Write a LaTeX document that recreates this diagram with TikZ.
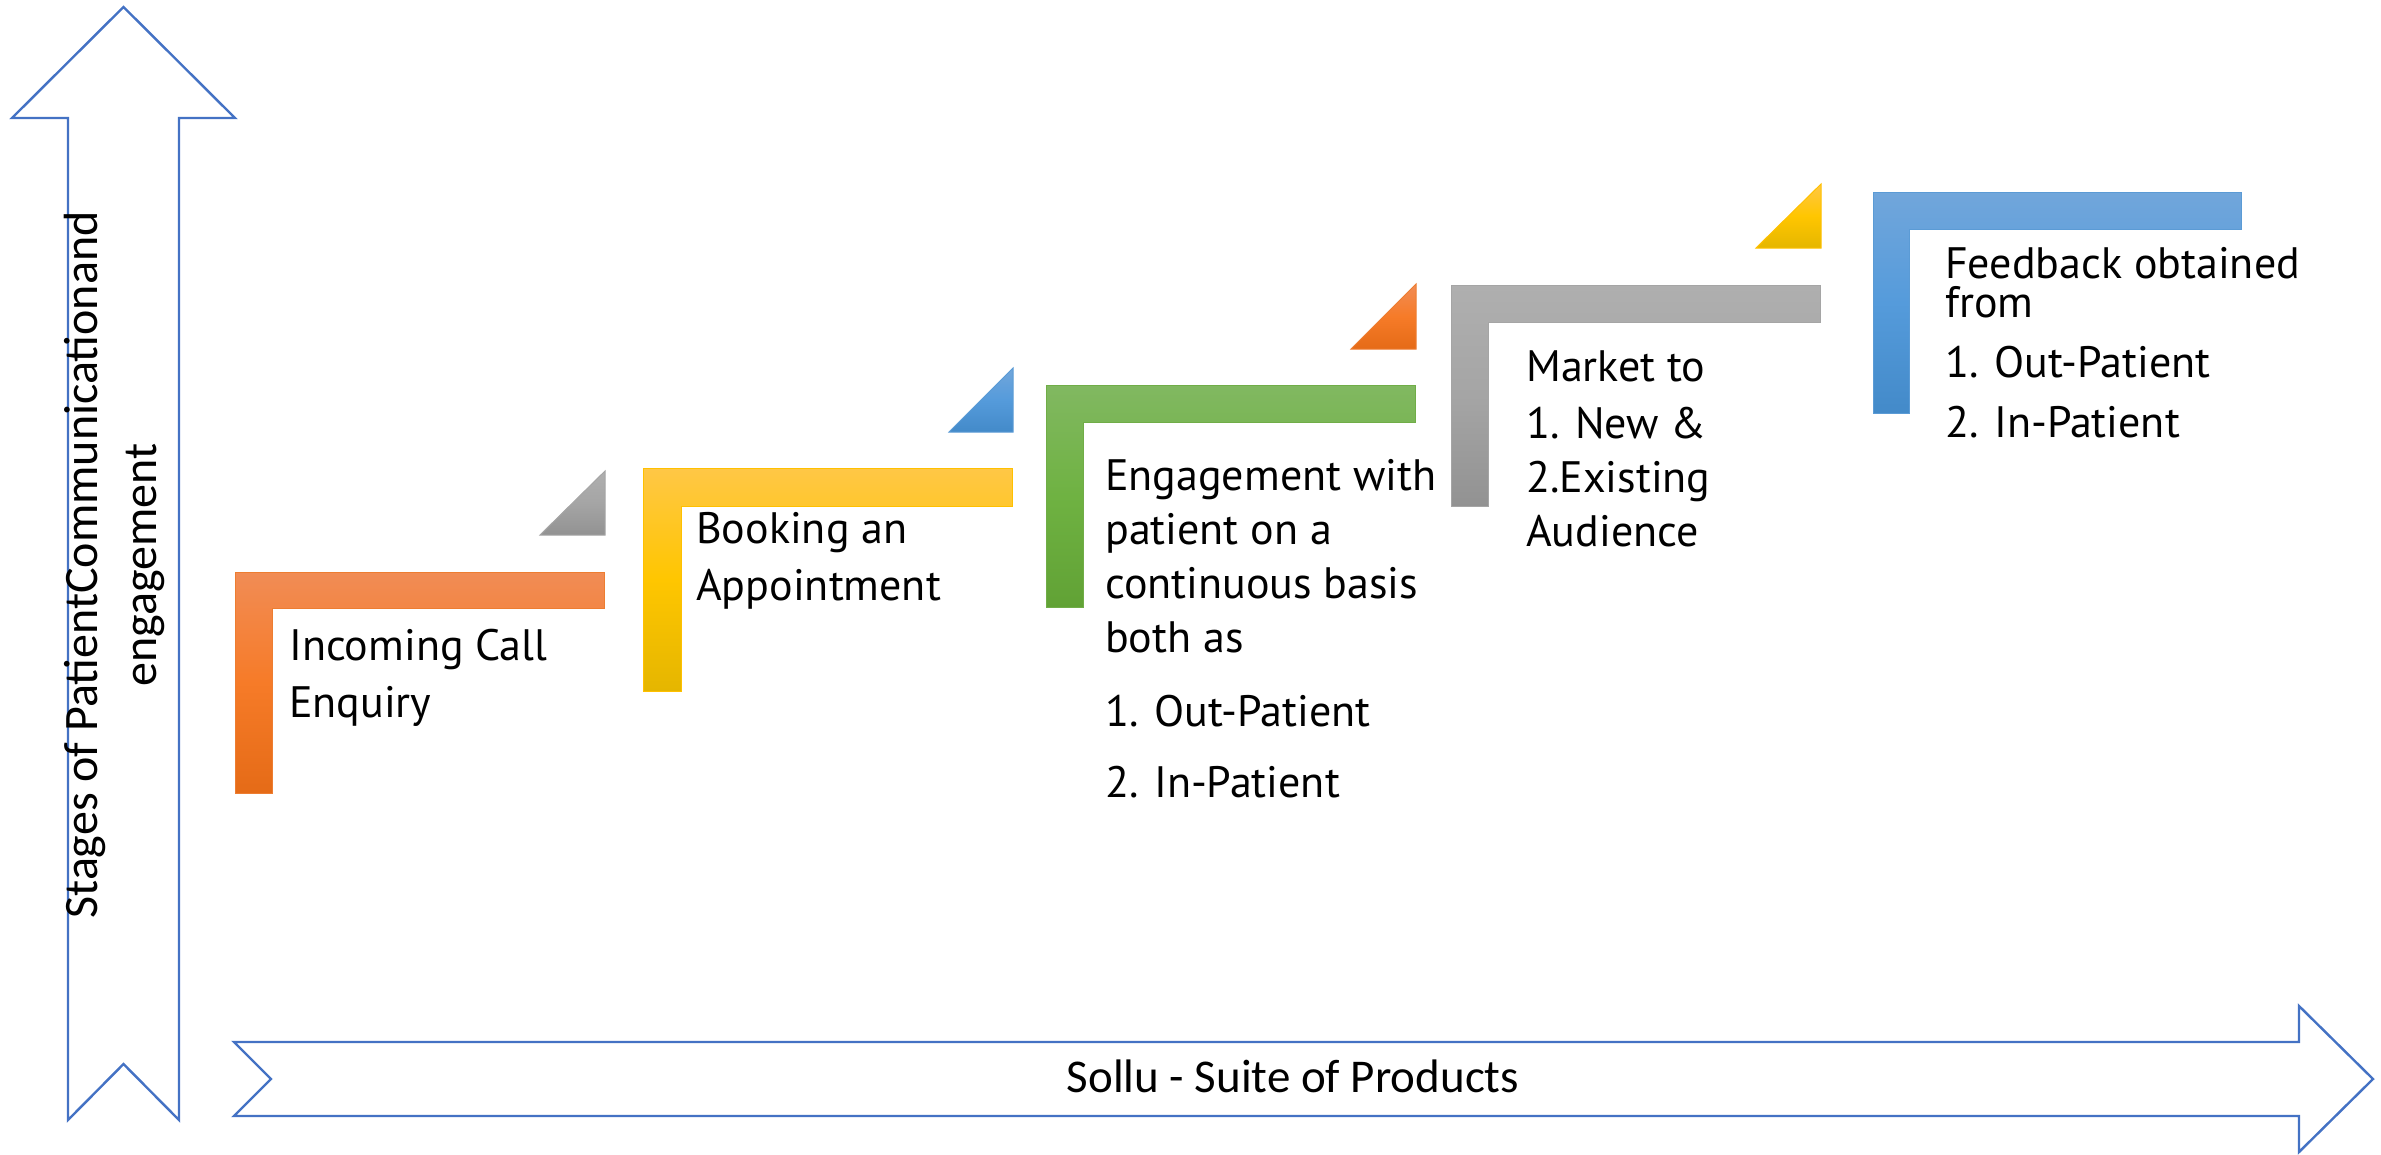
\documentclass[tikz,border=0pt]{standalone}
\usepackage{fontspec}
\setmainfont{PT Sans}
\newfontfamily\axisfont{Carlito}

% Office-like accent gradients (top / middle / bottom / outline)
\definecolor{axisblue}{HTML}{4472C4}
\definecolor{orT}{HTML}{F18C55}\definecolor{orM}{HTML}{F67B28}\definecolor{orB}{HTML}{E56B17}\definecolor{orD}{HTML}{ED7D31}
\definecolor{yeT}{HTML}{FFC746}\definecolor{yeM}{HTML}{FFC600}\definecolor{yeB}{HTML}{E5B600}\definecolor{yeD}{HTML}{FFC000}
\definecolor{grT}{HTML}{81B861}\definecolor{grM}{HTML}{6FB242}\definecolor{grB}{HTML}{61A235}\definecolor{grD}{HTML}{70AD47}
\definecolor{gyT}{HTML}{AFAFAF}\definecolor{gyM}{HTML}{A5A5A5}\definecolor{gyB}{HTML}{929292}\definecolor{gyD}{HTML}{A5A5A5}
\definecolor{blT}{HTML}{71A6DB}\definecolor{blM}{HTML}{559BDB}\definecolor{blB}{HTML}{438AC9}\definecolor{blD}{HTML}{5B9BD5}

\begin{document}
\begin{tikzpicture}[x=1pt,y=-1pt,
  axisarrow/.style={draw=axisblue, line width=2.4pt, line join=miter, fill=white},
  orangefill/.style={top color=orT, bottom color=orB, middle color=orM, draw=orD, line width=1pt},
  yellowfill/.style={top color=yeT, bottom color=yeB, middle color=yeM, draw=yeD, line width=1pt},
  greenfill/.style={top color=grT, bottom color=grB, middle color=grM, draw=grD, line width=1pt},
  grayfill/.style={top color=gyT, bottom color=gyB, middle color=gyM, draw=gyD, line width=1pt},
  bluefill/.style={top color=blT, bottom color=blB, middle color=blM, draw=blD, line width=1pt},
  % text blocks are placed by the baseline of their last line
  stagetext/.style={anchor=base west, align=left, inner sep=0pt, text=black,
    font=\fontsize{44}{54}\selectfont},
  axislabel/.style={inner sep=0pt, align=center, text=black,
    font=\axisfont\fontsize{48}{59}\selectfont},
]
\path[use as bounding box] (0,0) rectangle (2381,1154);

% vertical axis arrow (notched tail)
\draw[axisarrow] (68,1120) -- (68,118) -- (12,118) -- (123.5,7) -- (235,118)
  -- (179,118) -- (179,1120) -- (123.5,1064) -- cycle;
\node[axislabel, rotate=90] (yaxis) at (114,565)
  {Stages of PatientCommunicationand\\engagement};

% horizontal axis arrow (notched tail)
\draw[axisarrow] (234,1042) -- (2299,1042) -- (2299,1006) -- (2373,1079)
  -- (2299,1152) -- (2299,1116) -- (234,1116) -- (271,1079) -- cycle;
\node[axislabel, anchor=base, font=\axisfont\fontsize{47}{55}\selectfont] (xaxis) at (1293,1092)
  {Sollu - Suite of Products};

% stage 1
\path[orangefill] (235,572) -- (604,572) -- (604,608) -- (272,608) -- (272,793) -- (235,793) -- cycle;
\path[grayfill] (540,535) -- (605,535) -- (605,471) -- cycle;
\node[stagetext] (s1) at (289,717) {Incoming Call\\[3pt]Enquiry};

% stage 2
\path[yellowfill] (643,468) -- (1012,468) -- (1012,506) -- (681,506) -- (681,691) -- (643,691) -- cycle;
\path[bluefill] (949,432) -- (1013,432) -- (1013,368) -- cycle;
\node[stagetext] (s2) at (696,600) {Booking an\\[3pt]Appointment};

% stage 3
\path[greenfill] (1046,385) -- (1415,385) -- (1415,422) -- (1083,422) -- (1083,607) -- (1046,607) -- cycle;
\path[orangefill] (1351,349) -- (1416,349) -- (1416,284) -- cycle;
\node[stagetext] (s3) at (1105,797)
  {Engagement with\\patient on a\\continuous basis\\both as\\[20pt]1. Out-Patient\\[17pt]2. In-Patient};

% stage 4
\path[grayfill] (1451,285) -- (1820,285) -- (1820,322) -- (1488,322) -- (1488,506) -- (1451,506) -- cycle;
\path[yellowfill] (1756,248) -- (1821,248) -- (1821,184) -- cycle;
\node[stagetext] (s4) at (1526,546) {Market to\\[3pt]1. New \&\\2.Existing\\Audience};

% stage 5
\path[bluefill] (1873,192) -- (2241,192) -- (2241,229) -- (1909,229) -- (1909,413) -- (1873,413) -- cycle;
\node[stagetext] (s5) at (1945,437)
  {Feedback obtained\\[-15pt]from\\[6pt]1. Out-Patient\\[6pt]2. In-Patient};
\end{tikzpicture}
\end{document}
